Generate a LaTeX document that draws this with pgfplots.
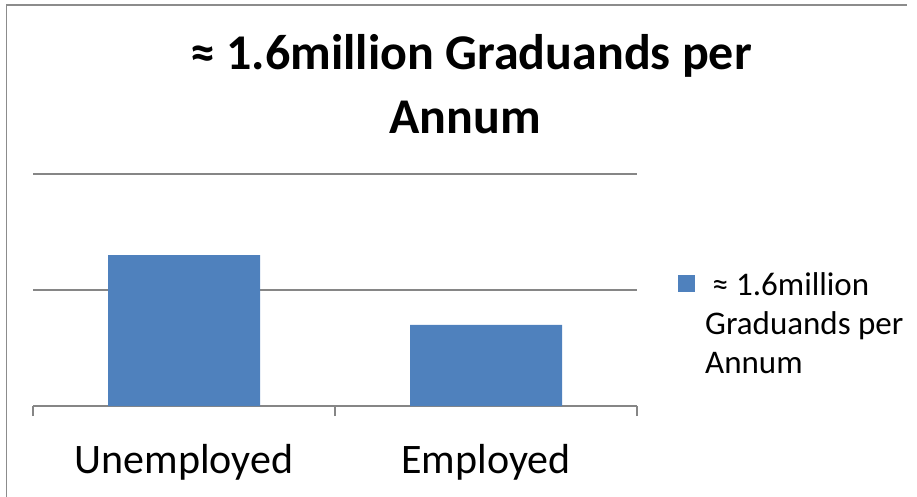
\documentclass[border=0pt]{standalone}
\usepackage{pgfplots}
\pgfplotsset{compat=1.18}
\usepackage{fontspec}
\setmainfont{Carlito}
\definecolor{barblue}{HTML}{4F81BD}
\definecolor{gridgray}{HTML}{868686}
\definecolor{framegray}{HTML}{8C8C8C}
\begin{document}
\begin{tikzpicture}
\useasboundingbox (0,0) rectangle (917bp,-497bp);
\draw[framegray, line width=1.5bp] (6.5bp,-497bp) -- (6.5bp,-5bp) -- (907bp,-5bp);
\node[font=\fontsize{50bp}{64bp}\selectfont\bfseries, anchor=base] at (471bp,-69bp) {≈ 1.6million Graduands per};
\node[font=\fontsize{50bp}{64bp}\selectfont\bfseries, anchor=base] at (465bp,-133bp) {Annum};
\begin{axis}[
  at={(33bp,-406bp)}, anchor=south west,
  scale only axis, width=604bp, height=232bp,
  xmin=-0.5, xmax=1.5, ymin=0, ymax=2,
  enlargelimits=false, clip=false,
  axis x line*=bottom, axis y line*=left,
  x axis line style={-, gridgray, line width=1.5bp},
  y axis line style={draw=none},
  xtick={0,1}, xticklabels={Unemployed, Employed},
  minor xtick={-0.5,0.5,1.5},
  major x tick style={draw=none},
  minor x tick style={gridgray, line width=1.5bp},
  minor tick length=10bp,
  tick align=outside,
  ytick={1,2}, yticklabels={}, major y tick style={draw=none},
  ymajorgrids, grid style={gridgray, line width=1.5bp},
  xticklabel style={font=\fontsize{42bp}{50bp}\selectfont, anchor=base, yshift=-63bp},
  legend style={at={(rel axis cs:1.0679,0.596)}, anchor=north west, draw=none, fill=none,
    inner sep=0pt, nodes={inner sep=0pt}, column sep=10bp,
    font=\fontsize{33bp}{39bp}\selectfont},
  legend cell align=left,
  legend image code/.code={\fill[barblue] (0bp,-10bp) rectangle (17bp,7bp);},
]
\addplot[ybar, bar width=152bp, fill=barblue, draw=none] coordinates {(0,1.3) (1,0.7)};
\addlegendentry{\begin{tabular}[t]{@{}l@{}}\hspace*{7bp}≈ 1.6million\\Graduands per\\Annum\end{tabular}}
\end{axis}
\end{tikzpicture}
\end{document}
